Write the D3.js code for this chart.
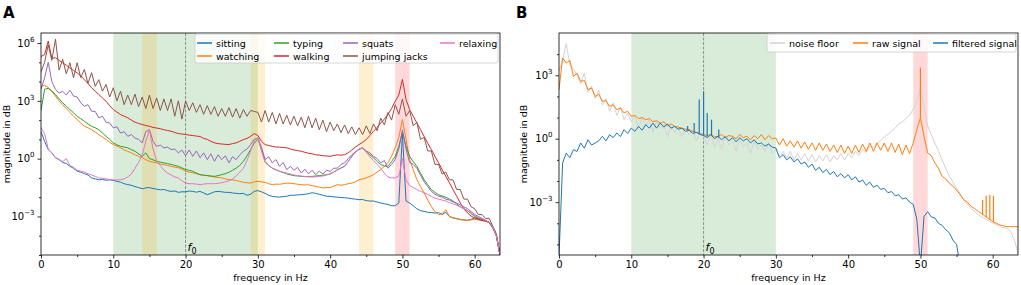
<!DOCTYPE html>
<html>
<head>
<meta charset="utf-8">
<script src="https://cdn.jsdelivr.net/npm/d3@7"></script>
<style>
  body { margin: 0; background: #fff; }
  svg { font-family: "DejaVu Sans", sans-serif; }
</style>
</head>
<body>
<svg id="chart" width="1021" height="285"></svg>
<script>
// frequency grid of the spectra (Hz), 0.5 Hz apart
const freq = d3.range(0, 64, 0.5);

// ---- panel A: log10 magnitude per activity ----
const sitting = [
  1.4, 0.9, 0.47, 0.3, 0.05, -0.05, -0.2, -0.25, -0.4, -0.5, -0.65, -0.7, -0.78, -0.85, -1.0, -1.05, -1.1, -1.08, -1.12, -1.1,
  -1.13, -1.18, -1.22, -1.3, -1.35, -1.38, -1.45, -1.5, -1.56, -1.52, -1.5, -1.55, -1.58, -1.62, -1.6, -1.66, -1.7, -1.68, -1.75, -1.72,
  -1.72, -1.68, -1.7, -1.74, -1.7, -1.78, -1.87, -1.8, -1.72, -1.7, -1.72, -1.75, -1.75, -1.78, -1.8, -1.82, -1.8, -1.9, -1.85, -1.7,
  -1.66, -1.72, -1.8, -1.9, -1.96, -1.98, -2.0, -1.97, -1.95, -1.9, -1.9, -1.88, -1.87, -1.85, -1.82, -1.77, -1.8, -1.85, -1.9, -1.95,
  -1.96, -1.98, -2.0, -2.02, -2.03, -2.05, -2.08, -2.1, -2.13, -2.12, -2.18, -2.2, -2.2, -2.25, -2.3, -2.34, -2.38, -2.44, -2.44, -2.3,
  1.3, -2.2, -2.3, -2.45, -2.6, -2.7, -2.74, -2.78, -2.8, -2.82, -2.8, -2.9, -2.78, -3.0, -3.07, -3.12, -3.17, -3.18, -3.2, -3.15,
  -3.07, -3.12, -3.17, -3.22, -3.33, -3.6, -4.0, -5.0
];
const watching = [
  3.75, 3.8, 3.7, 3.5, 3.24, 3.0, 2.8, 2.6, 2.4, 2.2, 2.03, 1.85, 1.68, 1.6, 1.5, 1.38, 1.25, 1.12, 1.0, 0.85,
  0.73, 0.65, 0.57, 0.45, 0.38, 0.3, 0.2, 0.12, 0.05, -0.05, -0.14, -0.18, -0.22, -0.28, -0.31, -0.36, -0.4, -0.44, -0.47, -0.55,
  -0.66, -0.7, -0.73, -0.78, -0.83, -0.86, -0.88, -0.92, -0.95, -0.98, -1.0, -1.05, -1.09, -1.1, -1.13, -1.18, -1.23, -1.25, -1.27, -1.2,
  -1.18, -1.2, -1.23, -1.3, -1.35, -1.32, -1.33, -1.3, -1.27, -1.28, -1.3, -1.33, -1.35, -1.37, -1.35, -1.4, -1.44, -1.48, -1.52, -1.5,
  -1.5, -1.42, -1.35, -1.38, -1.35, -1.3, -1.27, -1.2, -1.09, -1.05, -1.0, -0.92, -0.83, -0.7, -0.57, -0.4, -0.22, 0.12, 0.56, 1.1,
  2.03, 1.0, -0.05, -0.57, -1.09, -1.45, -1.77, -2.15, -2.48, -2.75, -2.91, -2.85, -2.65, -3.0, -3.08, -3.1, -3.15, -3.18, -3.2, -3.18,
  -3.15, -3.18, -3.2, -3.25, -3.3, -3.55, -4.0, -5.0
];
const typing = [
  2.5, 3.6, 3.65, 3.5, 3.33, 3.1, 2.9, 2.72, 2.55, 2.38, 2.2, 2.07, 1.94, 1.8, 1.68, 1.6, 1.5, 1.33, 1.16, 1.0,
  0.82, 0.72, 0.64, 0.6, 0.56, 0.47, 0.38, 0.25, 0.12, 0.3, 0.0, -0.06, -0.14, -0.18, -0.22, -0.26, -0.3, -0.35, -0.4, -0.48,
  -0.57, -0.6, -0.66, -0.75, -0.83, -0.86, -0.88, -0.9, -0.92, -0.88, -0.83, -0.78, -0.71, -0.6, -0.49, -0.35, -0.14, 0.15, 0.47, 0.8,
  1.0, 0.5, -0.14, -0.35, -0.49, -0.58, -0.66, -0.72, -0.79, -0.84, -0.88, -0.9, -0.92, -0.93, -0.92, -0.92, -0.9, -0.88, -0.86, -0.83,
  -0.79, -0.7, -0.57, -0.48, -0.4, -0.15, 0.12, 0.35, 0.5, 0.56, 0.35, 0.2, 0.05, -0.15, -0.31, -0.38, -0.4, -0.15, 0.12, 0.64,
  1.35, 0.64, 0.12, -0.15, -0.4, -0.75, -1.09, -1.35, -1.6, -1.75, -1.87, -1.94, -2.0, -2.1, -2.2, -2.35, -2.5, -2.6, -2.7, -2.85,
  -3.0, -3.08, -3.15, -3.22, -3.3, -3.55, -4.0, -5.0
];
const walking = [
  5.3, 5.4, 6.1, 5.2, 5.24, 5.1, 4.97, 4.85, 4.7, 4.58, 4.45, 4.3, 4.1, 3.9, 3.68, 3.5, 3.33, 3.15, 2.98, 2.75,
  2.55, 2.42, 2.29, 2.2, 2.12, 2.0, 1.89, 1.83, 1.77, 1.72, 1.68, 1.62, 1.59, 1.55, 1.5, 1.46, 1.42, 1.36, 1.3, 1.28,
  1.25, 1.22, 1.2, 1.17, 1.15, 1.05, 1.0, 0.9, 0.82, 0.78, 0.76, 0.74, 0.73, 0.78, 0.82, 0.9, 0.99, 1.05, 1.16, 1.3,
  1.2, 0.9, 0.73, 0.68, 0.64, 0.6, 0.6, 0.58, 0.56, 0.5, 0.45, 0.42, 0.38, 0.33, 0.28, 0.25, 0.2, 0.18, 0.15, 0.14,
  0.12, 0.16, 0.2, 0.18, 0.2, 0.3, 0.45, 0.6, 0.73, 0.85, 0.99, 1.2, 1.42, 1.62, 1.85, 2.05, 2.29, 2.6, 2.98, 3.3,
  4.11, 3.07, 2.55, 2.2, 1.85, 1.5, 1.16, 0.8, 0.47, 0.12, -0.22, -0.57, -0.92, -1.25, -1.6, -1.95, -2.3, -2.6, -2.82, -2.98,
  -3.08, -3.15, -3.2, -3.25, -3.3, -3.55, -4.0, -5.0
];
const squats = [
  3.6, 4.2, 5.0, 4.0, 3.6, 3.4, 3.5, 3.3, 3.55, 3.25, 3.2, 2.9, 2.72, 2.8, 2.46, 2.45, 2.12, 2.2, 1.89, 1.85,
  1.6, 1.65, 1.33, 1.4, 1.16, 1.25, 1.07, 1.0, 0.82, 1.4, 1.5, 0.9, 0.64, 0.7, 0.56, 0.6, 0.47, 0.5, 0.3, 0.45,
  0.15, 0.45, 0.12, 0.4, 0.05, 0.3, -0.05, 0.25, -0.14, 0.2, -0.05, 0.15, -0.22, 0.1, -0.05, 0.2, 0.38, 0.5, 0.73, 1.0,
  1.07, 0.6, -0.05, 0.1, -0.22, -0.05, -0.4, -0.2, -0.57, -0.4, -0.6, -0.45, -0.75, -0.55, -0.79, -0.6, -0.83, -0.65, -0.8, -0.6,
  -0.66, -0.5, -0.49, -0.3, -0.22, 0.0, 0.2, 0.35, 0.47, 0.56, 0.4, 0.3, 0.12, 0.0, -0.22, -0.1, -0.5, -0.3, -0.05, 0.5,
  1.5, 0.5, -0.2, -0.3, -0.5, -0.85, -1.2, -1.45, -1.7, -1.85, -1.95, -2.0, -2.1, -2.15, -2.25, -2.3, -2.4, -2.5, -2.6, -2.75,
  -2.9, -3.0, -3.1, -3.2, -3.3, -3.55, -4.0, -5.0
];
const jumpingJacks = [
  4.5, 5.0, 5.9, 5.1, 6.2, 4.6, 5.15, 4.4, 4.98, 4.2, 4.98, 4.2, 4.63, 3.9, 4.46, 3.75, 4.1, 3.5, 3.85, 3.2,
  3.68, 3.0, 3.5, 2.8, 3.3, 2.8, 3.35, 2.7, 3.2, 2.6, 3.3, 2.6, 3.15, 2.5, 3.1, 2.5, 3.1, 2.2, 3.0, 2.05,
  3.0, 2.5, 2.9, 2.4, 2.8, 2.3, 2.75, 2.3, 2.7, 2.2, 2.6, 2.2, 2.65, 2.15, 2.6, 2.1, 2.55, 2.2, 2.5, 2.45,
  2.4, 1.9, 2.5, 1.9, 2.4, 1.8, 2.35, 1.8, 2.25, 1.75, 2.2, 1.7, 2.15, 1.6, 2.2, 1.6, 2.1, 1.5, 2.0, 1.4,
  1.9, 1.45, 1.8, 1.35, 1.75, 1.3, 1.65, 1.25, 1.6, 1.25, 1.7, 1.3, 1.8, 1.45, 2.1, 1.75, 2.4, 2.0, 2.8, 2.3,
  3.1, 2.2, 2.5, 1.7, 1.9, 1.0, 1.1, 0.4, 0.4, -0.3, -0.3, -0.8, -0.7, -1.1, -1.1, -1.6, -1.6, -2.1, -2.1, -2.5,
  -2.6, -2.9, -2.9, -3.1, -3.1, -3.5, -3.9, -5.0
];
const relaxing = [
  1.6, 1.3, 0.5, 0.3, 0.05, -0.05, -0.15, 0.0, -0.35, -0.45, -0.6, -0.65, -0.7, -0.78, -0.85, -0.92, -1.0, -1.02, -1.05, -1.08,
  -1.1, -1.1, -1.1, -1.05, -0.95, -0.8, -0.5, -0.2, 0.2, 0.9, 1.5, 0.5, -0.1, -0.35, -0.6, -0.75, -0.85, -0.95, -1.0, -1.15,
  -1.27, -1.3, -1.3, -1.32, -1.35, -1.32, -1.3, -1.3, -1.3, -1.28, -1.25, -1.2, -1.15, -1.05, -0.9, -0.7, -0.5, -0.1, 0.4, 0.9,
  1.1, 0.4, -0.2, -0.35, -0.5, -0.58, -0.65, -0.7, -0.75, -0.8, -0.85, -0.88, -0.9, -0.93, -0.95, -0.95, -0.95, -0.92, -0.9, -0.85,
  -0.8, -0.7, -0.6, -0.5, -0.4, -0.15, 0.1, 0.35, 0.5, 0.55, 0.35, 0.1, -0.1, -0.3, -0.5, -0.75, -0.95, -1.0, -1.0, -0.9,
  0.0, -1.1, -1.4, -1.5, -1.6, -1.7, -1.77, -1.85, -1.96, -2.05, -2.1, -2.15, -2.2, -2.28, -2.35, -2.42, -2.5, -2.6, -2.7, -2.82,
  -2.95, -3.05, -3.1, -3.2, -3.3, -3.55, -4.0, -5.0
];

// ---- panel B: noise floor, raw and filtered signal (log10) ----
const noiseFloor = [
  3.2, 3.7, 4.5, 3.5, 3.3, 3.0, 2.6, 3.1, 2.2, 2.5, 1.9, 2.3, 1.6, 1.9, 1.3, 1.7, 1.1, 1.5, 0.9, 1.2,
  0.8, 1.1, 0.5, 1.0, 0.6, 0.9, 0.3, 0.8, 0.5, 0.7, 0.1, 0.6, 0.3, 0.5, 0.1, 0.5, 0.2, 0.4, -0.1, 0.3,
  0.1, -0.3, 0.2, -0.4, 0.0, -0.5, 0.1, -0.3, -0.1, -0.6, 0.0, -0.4, -0.2, -0.7, -0.1, -0.5, -0.3, -0.6, -0.2, -0.7,
  -0.5, -0.8, -0.6, -0.9, -0.6, -1.0, -0.7, -1.0, -0.7, -1.05, -0.75, -1.1, -0.8, -1.05, -0.75, -1.1, -0.8, -1.0, -0.7, -1.0,
  -0.7, -0.9, -0.6, -0.8, -0.5, -0.65, -0.35, -0.4, -0.2, -0.1, 0.1, 0.2, 0.35, 0.5, 0.7, 0.8, 0.95, 1.1, 1.4, 1.7,
  2.4, 1.5, 0.6, 0.2, -0.2, -0.6, -1.0, -1.4, -1.78, -2.05, -2.34, -2.6, -2.89, -3.1, -3.3, -3.45, -3.6, -3.7, -3.8, -3.9,
  -4.0, -4.05, -4.16, -4.2, -4.24, -4.4, -4.8, -5.4
];
const rawSignal = [
  2.32, 3.82, 3.58, 3.7, 2.95, 3.1, 2.71, 2.75, 2.32, 2.4, 2.0, 2.1, 1.77, 1.8, 1.53, 1.6, 1.37, 1.45, 1.22, 1.3,
  1.06, 1.1, 0.95, 1.0, 0.9, 0.95, 0.8, 0.85, 0.74, 0.8, 0.6, 0.7, 0.58, 0.55, 0.5, 0.45, 0.43, 0.35, 0.3, 0.25,
  0.19, 0.15, 0.2, 0.1, 0.11, 0.2, 0.05, 0.15, 0.11, 0.0, 0.2, 0.05, 0.12, -0.05, 0.15, 0.0, 0.2, -0.05, 0.15, 0.0,
  0.03, -0.3, 0.0, -0.35, -0.1, -0.4, -0.1, -0.45, -0.15, -0.5, -0.2, -0.55, -0.2, -0.55, -0.25, -0.6, -0.3, -0.65, -0.3, -0.7,
  -0.35, -0.7, -0.3, -0.65, -0.25, -0.6, -0.2, -0.6, -0.2, -0.55, -0.2, -0.6, -0.2, -0.65, -0.25, -0.75, -0.3, -0.7, -0.2, 0.43,
  1.0, 0.11, -0.68, -0.8, -1.15, -1.4, -1.78, -1.9, -2.1, -2.25, -2.42, -2.65, -2.89, -3.0, -3.2, -3.3, -3.44, -3.55, -3.68, -3.8,
  -3.92, -4.0, -4.08, -4.12, -4.16, -4.16, -4.16, -4.16
];
const filteredSignal = [
  -5.6, -1.15, -0.68, -0.9, -0.52, -0.6, -0.2, -0.45, -0.05, -0.3, -0.2, -0.1, 0.11, -0.1, 0.19, 0.05, 0.27, 0.1, 0.43, 0.25,
  0.5, 0.35, 0.58, 0.4, 0.66, 0.5, 0.74, 0.5, 0.74, 0.55, 0.7, 0.5, 0.58, 0.45, 0.5, 0.35, 0.4, 0.25, 0.3, 0.2,
  0.15, 0.05, 0.2, 0.0, 0.11, -0.05, 0.1, -0.1, 0.05, -0.15, 0.05, -0.1, 0.0, -0.2, -0.05, -0.25, -0.2, -0.35, -0.25, -0.4,
  -0.44, -0.9, -0.75, -1.0, -0.85, -1.1, -0.95, -1.2, -1.1, -1.35, -1.2, -1.5, -1.35, -1.6, -1.45, -1.7, -1.55, -1.8, -1.65, -1.85,
  -1.7, -1.95, -1.8, -2.05, -1.95, -2.2, -2.05, -2.3, -2.2, -2.4, -2.35, -2.55, -2.5, -2.7, -2.65, -2.85, -2.8, -3.0, -3.1, -3.8,
  -6.0, -3.68, -3.45, -3.7, -3.75, -4.0, -4.1, -4.3, -4.45, -4.8, -5.0, -6.0
];
// narrow spectral lines (Hz, log10 base, log10 top)
const rawSpikeFreq = [50.0, 58.6, 59.1, 59.6, 60.1];
const rawSpikeBase = [1.0, -3.6, -3.7, -3.85, -3.95];
const rawSpikeTop  = [3.36, -2.9, -2.7, -2.65, -2.7];
const filtSpikeFreq = [17.8, 18.7, 19.4, 20.0, 20.5, 21.1, 22.1];
const filtSpikeBase = [0.4, 0.3, 0.25, 0.15, 0.1, 0.15, 0.05];
const filtSpikeTop  = [0.6, 0.74, 1.85, 2.24, 1.22, 0.9, 0.43];

const svg = d3.select("#chart");

function drawPanel(p) {
  const x = d3.scaleLinear().domain([0, 63.5]).range([p.left, p.right]);
  const y = d3.scaleLog().domain(p.yDomain).range([p.bottom, p.top]);
  const g = svg.append("g");

  g.append("clipPath").attr("id", p.id + "clip")
    .append("rect")
    .attr("x", p.left).attr("y", p.top)
    .attr("width", p.right - p.left).attr("height", p.bottom - p.top);

  // shaded bands
  p.bands.forEach(b => {
    g.append("rect")
      .attr("x", x(b[0])).attr("y", p.top)
      .attr("width", x(b[1]) - x(b[0])).attr("height", p.bottom - p.top)
      .attr("fill", b[2]).attr("fill-opacity", b[3]);
  });

  // f0 marker
  g.append("line")
    .attr("x1", x(20)).attr("x2", x(20))
    .attr("y1", p.top).attr("y2", p.bottom)
    .attr("stroke", "#777").attr("stroke-width", 0.8)
    .attr("stroke-dasharray", "3,1.5");
  const f0 = g.append("text")
    .attr("x", x(20) + 2).attr("y", p.bottom - 4)
    .attr("font-size", "11px");
  f0.append("tspan").attr("font-style", "italic").text("f");
  f0.append("tspan").attr("dy", "2.5").attr("font-size", "8px").text("0");

  const plot = g.append("g").attr("clip-path", "url(#" + p.id + "clip)");
  const line = d3.line()
    .defined(d => d[1] != null)
    .x(d => x(d[0]))
    .y(d => y(Math.pow(10, d[1])));

  p.series.forEach(s => {
    const pts = s.values.map((v, i) => [freq[i], v]);
    plot.append("path")
      .attr("d", line(pts))
      .attr("fill", "none")
      .attr("stroke", s.color)
      .attr("stroke-width", 1)
      .attr("stroke-linejoin", "round");
    if (s.spikes) {
      s.spikes.f.forEach((f, i) => {
        plot.append("line")
          .attr("x1", x(f)).attr("x2", x(f))
          .attr("y1", y(Math.pow(10, s.spikes.base[i])))
          .attr("y2", y(Math.pow(10, s.spikes.top[i])))
          .attr("stroke", s.color).attr("stroke-width", 1.2);
      });
    }
  });

  // axes
  const xAxis = g.append("g").attr("transform", "translate(0," + p.bottom + ")")
    .call(d3.axisBottom(x).tickValues([0, 10, 20, 30, 40, 50, 60])
      .tickSize(3.5).tickPadding(2.5));
  g.append("g").attr("transform", "translate(0," + p.bottom + ")")
    .call(d3.axisBottom(x).tickValues([5, 15, 25, 35, 45, 55])
      .tickSize(2).tickFormat(""));

  const yAxis = g.append("g").attr("transform", "translate(" + p.left + ",0)")
    .call(d3.axisLeft(y).tickValues(p.yMajor.map(e => Math.pow(10, e)))
      .tickSize(3.5).tickPadding(3));
  g.append("g").attr("transform", "translate(" + p.left + ",0)")
    .call(d3.axisLeft(y).tickValues(p.yMinor.map(e => Math.pow(10, e)))
      .tickSize(2).tickFormat(""));

  g.selectAll(".domain").remove();
  g.selectAll(".tick line").attr("stroke", "#000").attr("stroke-width", 0.8);
  xAxis.selectAll("text").attr("font-size", "10px").attr("fill", "#000")
    .attr("font-family", "DejaVu Sans");
  yAxis.selectAll("text").each(function (d) {
    const t = d3.select(this);
    const e = Math.round(Math.log10(d));
    t.text(null).attr("font-size", "10px").attr("fill", "#000")
      .attr("font-family", "DejaVu Sans");
    t.append("tspan").text("10");
    t.append("tspan").attr("dy", "-5").attr("font-size", "7px")
      .text(String(e).replace("-", "\u2212"));
  });

  // frame
  g.append("rect")
    .attr("x", p.left).attr("y", p.top)
    .attr("width", p.right - p.left).attr("height", p.bottom - p.top)
    .attr("fill", "none").attr("stroke", "#000").attr("stroke-width", 0.8);

  // labels
  g.append("text")
    .attr("x", (p.left + p.right) / 2).attr("y", 281)
    .attr("text-anchor", "middle").attr("font-size", "9.5px")
    .text("frequency in Hz");
  g.append("text")
    .attr("transform", "translate(" + p.ylabelX + "," + ((p.top + p.bottom) / 2) + ") rotate(-90)")
    .attr("text-anchor", "middle").attr("font-size", "9.5px")
    .text("magnitude in dB");
  g.append("text")
    .attr("x", p.letterX).attr("y", 18)
    .attr("font-size", "15px").attr("font-weight", "bold")
    .text(p.letter);

  // legend
  const lg = g.append("g");
  lg.append("rect")
    .attr("x", p.legend.x).attr("y", p.legend.y)
    .attr("width", p.legend.w).attr("height", p.legend.h)
    .attr("rx", 2).attr("fill", "#fff").attr("fill-opacity", 0.8)
    .attr("stroke", "#ccc").attr("stroke-width", 0.8);
  p.series.forEach((s, i) => {
    const pos = p.legend.pos[i];
    lg.append("line")
      .attr("x1", pos[0]).attr("x2", pos[0] + 15)
      .attr("y1", pos[1]).attr("y2", pos[1])
      .attr("stroke", s.color).attr("stroke-width", 1.5);
    lg.append("text")
      .attr("x", pos[0] + 19).attr("y", pos[1] + 3.5)
      .attr("font-size", "9.5px")
      .text(s.name);
  });
}

drawPanel({
  id: "A", letter: "A", letterX: 3,
  left: 41, right: 500, top: 33, bottom: 255,
  yDomain: [1e-5, Math.pow(10, 6.52)],
  yMajor: [-3, 0, 3, 6], yMinor: [-5, -4, -2, -1, 1, 2, 4, 5],
  ylabelX: 10,
  bands: [
    [10, 30, "#008000", 0.15],
    [14, 16, "#ffa500", 0.18],
    [29, 31, "#ffa500", 0.18],
    [44, 46, "#ffa500", 0.18],
    [49, 51, "#ff0000", 0.15]
  ],
  series: [
    { name: "sitting", color: "#1f77b4", values: sitting },
    { name: "watching", color: "#ff7f0e", values: watching },
    { name: "typing", color: "#2ca02c", values: typing },
    { name: "walking", color: "#d62728", values: walking },
    { name: "squats", color: "#9467bd", values: squats },
    { name: "jumping jacks", color: "#8c564b", values: jumpingJacks },
    { name: "relaxing", color: "#e377c2", values: relaxing }
  ],
  legend: {
    x: 195, y: 34, w: 303, h: 29,
    pos: [[197, 43], [197, 56], [274, 43], [274, 56], [343, 43], [343, 56], [440, 43]]
  }
});

drawPanel({
  id: "B", letter: "B", letterX: 516,
  left: 559, right: 1018, top: 33, bottom: 255,
  yDomain: [Math.pow(10, -5.5), 1e5],
  yMajor: [-3, 0, 3], yMinor: [-5, -4, -2, -1, 1, 2, 4],
  ylabelX: 527,
  bands: [
    [10, 30, "#008000", 0.15],
    [49, 51, "#ff0000", 0.15]
  ],
  series: [
    { name: "noise floor", color: "#d3d3d3", values: noiseFloor },
    { name: "raw signal", color: "#ff7f0e", values: rawSignal,
      spikes: { f: rawSpikeFreq, base: rawSpikeBase, top: rawSpikeTop } },
    { name: "filtered signal", color: "#1f77b4", values: filteredSignal,
      spikes: { f: filtSpikeFreq, base: filtSpikeBase, top: filtSpikeTop } }
  ],
  legend: {
    x: 767, y: 34, w: 249, h: 18,
    pos: [[770, 43], [853, 43], [933, 43]]
  }
});
</script>
</body>
</html>
